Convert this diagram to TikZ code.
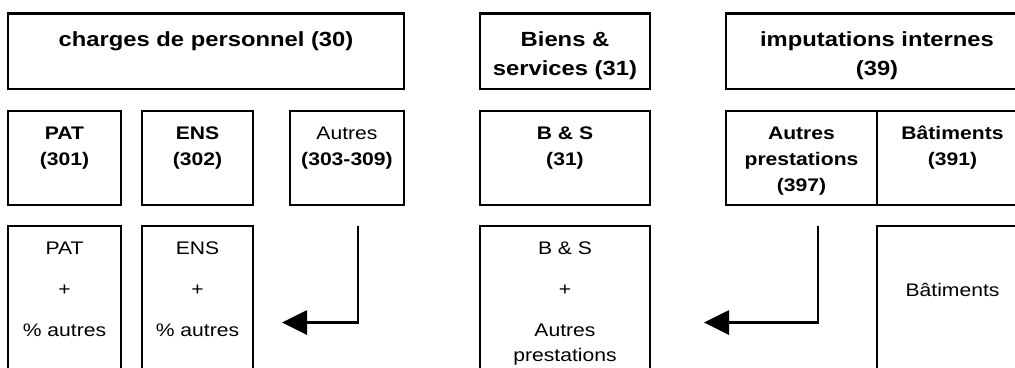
\documentclass[tikz,border=0pt]{standalone}
\usepackage{fontspec}
\setmainfont{Liberation Sans}[FakeStretch=1.16]
\usetikzlibrary{arrows.meta,calc}
\newcommand\lns[1]{\begin{tabular}[t]{@{}c@{}}#1\end{tabular}}
\tikzset{
  boite/.style={draw, line width=2.1pt, inner sep=0pt, minimum width=#1},
  hA/.style={minimum height=75.5pt},
  hB/.style={minimum height=94pt},
  hC/.style={minimum height=174pt},
  ttl/.style={anchor=base, inner sep=0pt, font=\fontsize{20.5}{29}\selectfont\bfseries},
  sub/.style={anchor=base, inner sep=0pt, font=\fontsize{18.2}{26}\selectfont\bfseries},
  low/.style={anchor=base, inner sep=0pt, font=\fontsize{18.2}{25}\selectfont},
  arr/.style={line width=2.8pt, line join=miter, -{Triangle[length=25pt,width=24pt]}}
}
\begin{document}
\begin{tikzpicture}[x=1pt,y=-1pt]
\useasboundingbox (0,0) rectangle (1015,367);
\fill[white] (0,0) rectangle (1015,367);
\clip (0,0) rectangle (1015,367);
% row 1
\node[boite=396pt,hA] (charges) at (206,51.25) {};
\node[boite=170pt,hA] (biens) at (565,51.25) {};
\node[boite=302pt,hA] (imput) at (877,51.25) {};
\node[ttl] (tcharges) at (206,46) {charges de personnel (30)};
\node[ttl] (tbiens) at (565,46) {\lns{Biens \&\\services (31)}};
\node[ttl] (timput) at (877,46) {\lns{imputations internes\\(39)}};
% row 2
\node[boite=113pt,hB] (pat2) at (64.5,158) {};
\node[boite=111pt,hB] (ens2) at (197.5,158) {};
\node[boite=114pt,hB] (aut2) at (347,158) {};
\node[boite=170pt,hB] (bs2) at (565,158) {};
\node[boite=151pt,hB] (ap2) at (801.5,158) {};
\node[boite=151pt,hB] (bat2) at (952.5,158) {};
\node[sub] (tpat2) at (64.5,139) {\lns{PAT\\(301)}};
\node[sub] (tens2) at (197.5,139) {\lns{ENS\\(302)}};
\node[sub] (taut2) at (347,139) {\lns{\mdseries Autres\\(303-309)}};
\node[sub] (tbs2) at (565,139) {\lns{B \& S\\(31)}};
\node[sub] (tap2) at (801.5,139) {\lns{Autres\\prestations\\(397)}};
\node[sub] (tbat2) at (952.5,139) {\lns{Bâtiments\\(391)}};
% row 3
\node[boite=113pt,hC] (pat3) at (64.5,313) {};
\node[boite=111pt,hC] (ens3) at (197.5,313) {};
\node[boite=170pt,hC] (bs3) at (565,313) {};
\node[boite=151pt,hC] (bat3) at (952.5,313) {};
\node[low] (tpat3) at (64.5,254) {\lns{PAT\\[16pt]+\\[16pt]\% autres}};
\node[low] (tens3) at (197.5,254) {\lns{ENS\\[16pt]+\\[16pt]\% autres}};
\node[low] (tbs3) at (565,254) {\lns{B \& S\\[16pt]+\\[16pt]Autres\\prestations}};
\node[low] (tbat3) at (952.5,296) {Bâtiments};
% arrows
\coordinate (a1s) at (358,226);
\coordinate (a1e) at (282,322.5);
\coordinate (a2s) at (818,226);
\coordinate (a2e) at (704,322.5);
\draw[arr] (a1s) |- (a1e);
\draw[arr] (a2s) |- (a2e);
\end{tikzpicture}
\end{document}
